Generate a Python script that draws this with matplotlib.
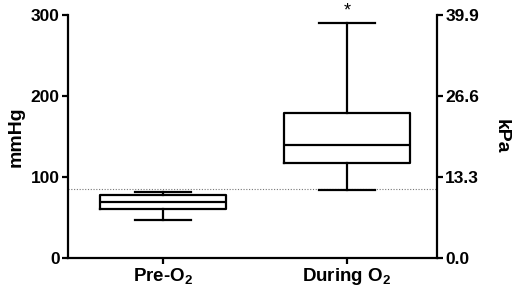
import matplotlib
matplotlib.use("Agg")
import matplotlib.pyplot as plt

plt.rcParams['font.family'] = ['Liberation Sans', 'DejaVu Sans']
plt.rcParams['font.weight'] = 'bold'
plt.rcParams['mathtext.fontset'] = 'custom'
plt.rcParams['mathtext.rm'] = 'Liberation Sans:bold'
plt.rcParams['mathtext.bf'] = 'Liberation Sans:bold'

categories = ["Pre-O$_2$", "During O$_2$"]
whislo = [47, 84]
q1 = [60, 117]
med = [69.5, 139]
q3 = [78, 179]
whishi = [82, 290]
reference_line = 85.5
mmhg_ticks = [0, 100, 200, 300]
kpa_ticks = [0.0, 13.3, 26.6, 39.9]

fig = plt.figure(figsize=(5.19, 2.93), dpi=100)
ax = fig.add_axes([0.131, 0.119, 0.711, 0.830])

stats = []
for i in range(len(categories)):
    stats.append(dict(whislo=whislo[i], q1=q1[i], med=med[i], q3=q3[i],
                      whishi=whishi[i], fliers=[], label=categories[i]))

lw = 1.6
ax.bxp(stats, positions=[0, 1], widths=0.68, showfliers=False,
       boxprops=dict(color='black', linewidth=lw),
       medianprops=dict(color='black', linewidth=lw),
       whiskerprops=dict(color='black', linewidth=lw),
       capprops=dict(color='black', linewidth=lw),
       capwidths=0.30)

ax.axhline(reference_line, color='#777777', linestyle=(0, (1, 1.5)), linewidth=0.8, zorder=0)

ax.text(1, whishi[1] + 4, "*", ha='center', va='bottom', fontsize=13, fontweight='normal')

ax.set_xlim(-0.516, 1.489)
ax.set_ylim(0, 300)
ax.set_yticks(mmhg_ticks)
ax.set_yticklabels([str(t) for t in mmhg_ticks], fontsize=12.5, fontweight='bold')
ax.set_xticks([0, 1])
ax.set_xticklabels(categories, fontsize=13.5, fontweight='bold')
ax.set_ylabel("mmHg", fontsize=14, fontweight='bold', labelpad=4)

for s in ['top', 'right']:
    ax.spines[s].set_visible(False)
for s in ['left', 'bottom']:
    ax.spines[s].set_linewidth(lw)
ax.tick_params(axis='both', width=lw, length=4, direction='out', pad=2)

ax2 = ax.twinx()
ax2.set_ylim(0, 39.9)
ax2.set_yticks(kpa_ticks)
ax2.set_yticklabels([f"{t:.1f}" for t in kpa_ticks], fontsize=12.5, fontweight='bold')
ax2.set_ylabel("kPa", fontsize=14, fontweight='bold', rotation=-90, labelpad=22)
for s in ['top', 'left', 'bottom']:
    ax2.spines[s].set_visible(False)
ax2.spines['right'].set_linewidth(lw)
ax2.tick_params(axis='y', width=lw, length=4, direction='out', pad=2)

fig.savefig("out.png", dpi=100)
